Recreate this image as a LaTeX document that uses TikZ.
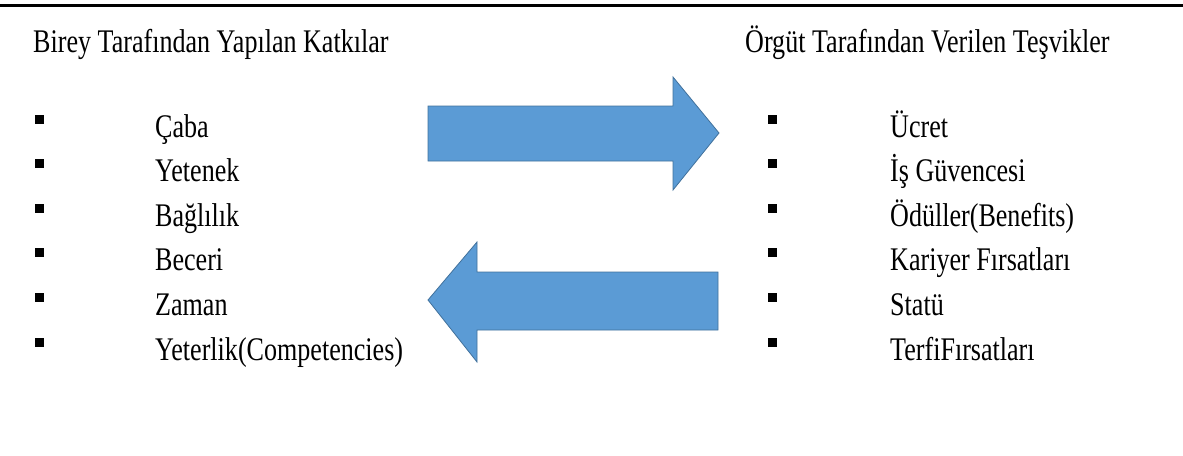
\documentclass[tikz,border=0pt]{standalone}
\usepackage{fontspec}
\setmainfont{Liberation Serif}[FakeStretch=0.79]
\definecolor{arrowfill}{HTML}{5B9BD5}
\definecolor{arrowline}{HTML}{41719C}
\begin{document}
\begin{tikzpicture}[x=1pt,y=-1pt,
  title/.style={anchor=base west,inner sep=0pt,font=\fontsize{33}{36}\selectfont},
  item/.style={anchor=base west,inner sep=0pt,font=\fontsize{33}{36}\selectfont},
  bul/.style={fill=black,minimum size=9pt,inner sep=0pt,draw=none},
  blockarrow/.style={fill=arrowfill,draw=arrowline,line width=0.8pt,line join=miter}]
\useasboundingbox (0,0) rectangle (1183,455);
\draw[line width=3pt] (0,5) -- (1183,5);
\node[title] (tl) at (33,52) {Birey Tarafından Yapılan Katkılar};
\node[title] (tr) at (745,52) {Örgüt Tarafından Verilen Teşvikler};
\foreach \t [count=\i] in {Çaba,Yetenek,Bağlılık,Beceri,Zaman,Yeterlik(Competencies)}{
  \node[bul] (lb\i) at (39,{137+44.6*(\i-1)-18}) {};
  \node[item] (li\i) at (155,{137+44.6*(\i-1)}) {\t};
}
\foreach \t [count=\i] in {Ücret,İş Güvencesi,Ödüller(Benefits),Kariyer Fırsatları,Statü,TerfiFırsatları}{
  \node[bul] (rb\i) at (772,{137+44.6*(\i-1)-18}) {};
  \node[item] (ri\i) at (890,{137+44.6*(\i-1)}) {\t};
}
\draw[blockarrow] (428,106) -- (673,106) -- (673,77) -- (719,133) -- (673,190) -- (673,161) -- (428,161) -- cycle;
\draw[blockarrow] (718,272) -- (477,272) -- (477,242) -- (428,300) -- (477,362) -- (477,330) -- (718,330) -- cycle;
\end{tikzpicture}
\end{document}
